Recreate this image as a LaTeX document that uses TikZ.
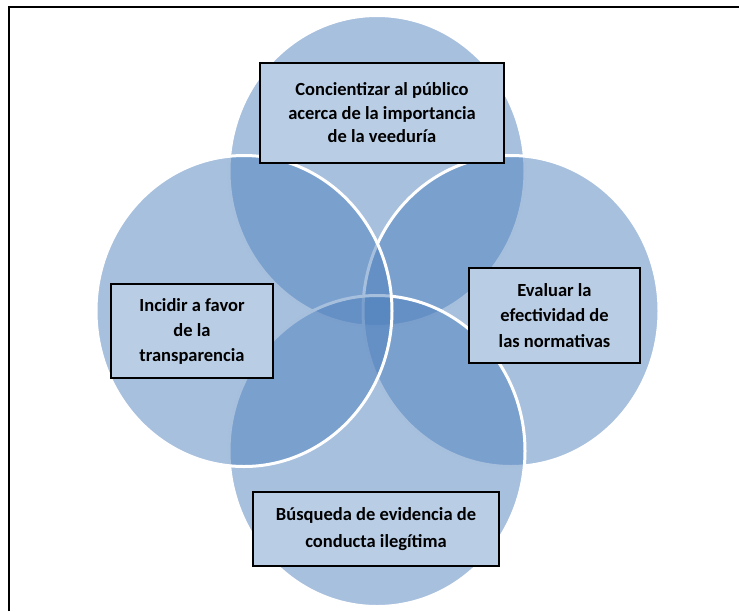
\documentclass[tikz,border=0pt]{standalone}
\usepackage{fontspec}
\setmainfont{Carlito}
\definecolor{circblue}{RGB}{79,129,189}
\definecolor{boxblue}{RGB}{185,205,229}
\begin{document}
\begin{tikzpicture}[x=1pt,y=-1pt,
  circ/.style={fill=circblue, fill opacity=0.5, draw=white, line width=3pt},
  box/.style={draw=black, line width=1.6pt, fill=boxblue, align=center, inner sep=0pt},
  boxfont/.style={font=\bfseries\fontsize{18.5}{#1}\selectfont},
  frameline/.style={draw=black, line width=2.2pt}]
\useasboundingbox (0,0) rectangle (739,611);
% circles in cycle order: top, right, bottom, left
\path[circ] (377,171) ellipse [x radius=148pt, y radius=155.5pt];
\path[circ] (511,311) ellipse [x radius=148pt, y radius=155.5pt];
\path[circ] (377,451) ellipse [x radius=148pt, y radius=155.5pt];
\path[circ] (244,311) ellipse [x radius=148pt, y radius=155.5pt];
% text boxes
\node[box, boxfont=23.5, minimum width=244pt, minimum height=100pt] (top) at (382,113)
  {Concientizar al público\\acerca de la importancia\\de la veeduría};
\node[box, boxfont=25.5, minimum width=171pt, minimum height=95pt] (right) at (554.5,315.5)
  {Evaluar la\\efectividad de\\las normativas};
\node[box, boxfont=26.5, minimum width=246pt, minimum height=74pt] (bottom) at (376,529)
  {Búsqueda de evidencia de\\conducta ilegítima};
\node[box, boxfont=25, minimum width=162pt, minimum height=94pt] (left) at (192,331)
  {Incidir a favor\\de la\\transparencia};
% frame
\coordinate (fa) at (9,611);
\coordinate (fb) at (9,7);
\coordinate (fc) at (739,7);
\draw[frameline] (fa) -- (fb) -- (fc);
\end{tikzpicture}
\end{document}
